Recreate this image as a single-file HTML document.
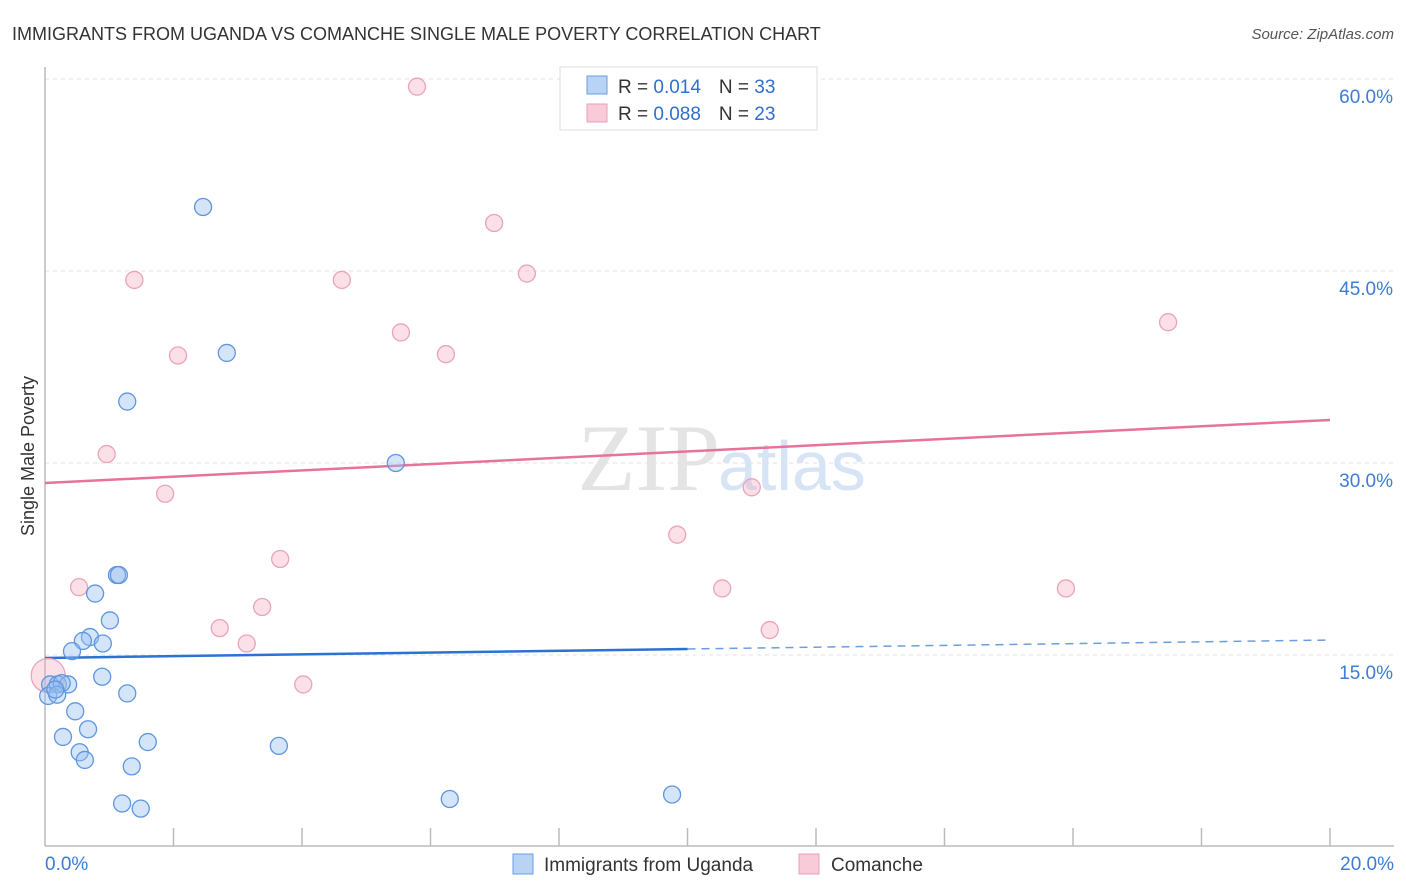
<!DOCTYPE html>
<html><head><meta charset="utf-8"><style>
body{margin:0;background:#fff;font-family:"Liberation Sans",sans-serif}
svg{display:block}
</style></head><body>
<svg width="1406" height="892" xmlns="http://www.w3.org/2000/svg" id="chart">
<text x="12" y="40" font-size="18" fill="#333">IMMIGRANTS FROM UGANDA VS COMANCHE SINGLE MALE POVERTY CORRELATION CHART</text>
<text x="1394" y="39" font-size="15" fill="#555" font-style="italic" text-anchor="end">Source: ZipAtlas.com</text>
<text x="720" y="490" font-size="95" fill="#e4e4e4" text-anchor="end" font-family="Liberation Serif">ZIP</text>
<text x="718" y="490" font-size="70" fill="#d6e4f5">atlas</text>
<text transform="translate(34,456) rotate(-90)" font-size="18" fill="#333" text-anchor="middle">Single Male Poverty</text>
<g id="grid"></g><g id="axes"></g><g id="trends"></g><g id="points"></g>
<g>
<rect x="560" y="67" width="257" height="63" fill="#fff" stroke="#ddd"/>
<rect x="587" y="76" width="20" height="18" fill="#b8d3f3" stroke="#6a9ee0"/>
<rect x="587" y="104" width="20" height="18" fill="#f9cbd8" stroke="#e8a0b6"/>
<text x="618" y="93" font-size="19" fill="#333">R = <tspan fill="#2f6fd0">0.014</tspan><tspan dx="18">N = </tspan><tspan fill="#2f6fd0">33</tspan></text>
<text x="618" y="120" font-size="19" fill="#333">R = <tspan fill="#2f6fd0">0.088</tspan><tspan dx="18">N = </tspan><tspan fill="#2f6fd0">23</tspan></text>
</g>
<g>
<rect x="513" y="854" width="20" height="20" fill="#b8d3f3" stroke="#6a9ee0"/>
<text x="544" y="871" font-size="19" fill="#333">Immigrants from Uganda</text>
<rect x="799" y="854" width="20" height="20" fill="#f9cbd8" stroke="#e8a0b6"/>
<text x="831" y="871" font-size="19" fill="#333">Comanche</text>
</g>
</svg>
<script>
const yTicks=[15,30,45,60];
const yTickLabels=["15.0%","30.0%","45.0%","60.0%"];
const xTicks=[0,2,4,6,8,10,12,14,16,18,20];
const xEndLabels=["0.0%","20.0%"];
const ugandaX=[2.46,2.83,1.28,5.46,1.12,1.15,0.78,1.01,0.70,0.59,0.90,0.42,0.08,0.20,0.36,0.26,0.89,1.28,0.05,0.19,0.47,0.67,0.28,0.54,0.62,1.60,3.64,1.35,1.20,1.49,6.30,9.76,0.16];
const ugandaY=[50.0,38.6,34.8,30.0,21.25,21.25,19.8,17.7,16.4,16.1,15.9,15.3,12.7,12.7,12.7,12.8,13.3,12.0,11.8,11.9,10.6,9.2,8.6,7.4,6.8,8.2,7.9,6.3,3.4,3.0,3.75,4.1,12.3];
const comancheX=[5.79,6.99,7.50,1.39,4.62,5.54,2.07,6.24,17.48,0.96,1.87,11.0,9.84,3.66,0.53,10.54,15.89,3.38,2.72,3.14,11.28,4.02,0.05];
const comancheY=[59.4,48.75,44.8,44.3,44.3,40.2,38.4,38.5,41.0,30.7,27.6,28.1,24.4,22.5,20.3,20.2,20.2,18.75,17.1,15.9,16.95,12.7,13.4];
const ugandaTrend=[14.77,16.17];
const comancheTrend=[28.44,33.36];
const xs=v=>45+v*64.25, ys=v=>847-v*12.8;
const NS="http://www.w3.org/2000/svg";
function mk(p,t,a){const e=document.createElementNS(NS,t);for(const k in a)e.setAttribute(k,a[k]);document.getElementById(p).appendChild(e);return e;}
yTicks.forEach((v,i)=>{
 const l=mk('grid','line',{x1:45,x2:1394,y1:ys(v),y2:ys(v),stroke:'#e2e2e2','stroke-dasharray':'4,4'});
 
 
 const t=mk('grid','text',{x:1393,y:ys(v)+24,'font-size':19,fill:'#3d7bd6','text-anchor':'end'});
 t.textContent=yTickLabels[i];
 
 
});
mk('axes','line',{x1:45,x2:45,y1:67,y2:846,stroke:'#bbb','stroke-width':1.5});
const xa=mk('axes','line',{x1:45,x2:1394,y1:846,y2:846,stroke:'#bbb','stroke-width':1.5});


xTicks.slice(1).forEach(v=>{
 const t=mk('axes','line',{x1:xs(v),x2:xs(v),y1:828,y2:846,stroke:'#bbb','stroke-width':1.5});
 
 
});
[[0,'start',45],[20,'end',1394]].forEach((d,i)=>{
 const t=mk('axes','text',{x:d[2],y:870,'font-size':19,fill:'#3d7bd6','text-anchor':d[1]});
 t.textContent=xEndLabels[i];
 
 
});
const p1=mk('trends','line',{x1:xs(0),y1:ys(comancheTrend[0]),x2:xs(20),y2:ys(comancheTrend[1]),stroke:'#e8739a','stroke-width':2.5});


const um=ugandaTrend[0]+(ugandaTrend[1]-ugandaTrend[0])*0.5;
const b1=mk('trends','line',{x1:xs(0),y1:ys(ugandaTrend[0]),x2:xs(10),y2:ys(um),stroke:'#2a72d4','stroke-width':2.5});


const b2=mk('trends','line',{x1:xs(10),y1:ys(um),x2:xs(20),y2:ys(ugandaTrend[1]),stroke:'#6a9ee0','stroke-width':1.5,'stroke-dasharray':'8,6'});


comancheX.forEach((x,i)=>{
 const c=mk('points','circle',{cx:xs(x),cy:ys(comancheY[i]),r:i==comancheX.length-1?17:8.5,fill:'rgba(244,165,190,0.35)',stroke:'#eba3b9','stroke-width':1.3});
 
 
});
ugandaX.forEach((x,i)=>{
 const c=mk('points','circle',{cx:xs(x),cy:ys(ugandaY[i]),r:8.5,fill:'rgba(150,190,240,0.4)',stroke:'#5f96df','stroke-width':1.3});
 
 
});
</script>
</body></html>
